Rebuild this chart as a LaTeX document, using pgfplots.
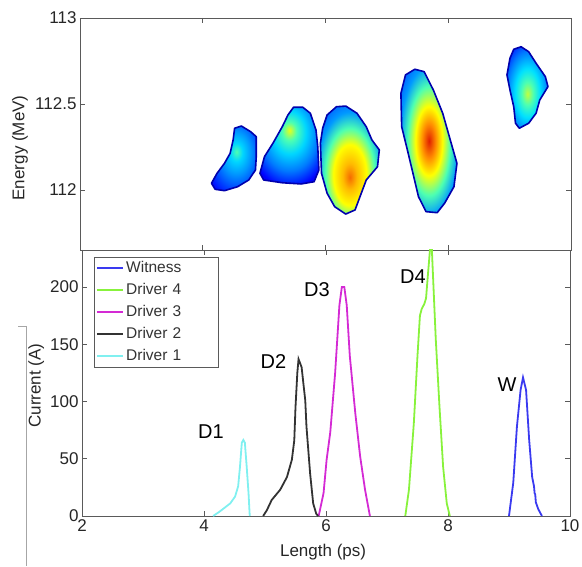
\documentclass[border=0pt]{standalone}
\usepackage{fontspec}
\setmainfont{Liberation Sans}
\usepackage{pgfplots}
\pgfplotsset{compat=1.18}

\definecolor{frame}{HTML}{5A5A5A}
\definecolor{witness}{HTML}{3A3AF0}
\definecolor{drv4}{HTML}{88F23C}
\definecolor{drv3}{HTML}{D42AD4}
\definecolor{drv2}{HTML}{333333}
\definecolor{drv1}{HTML}{80F0F0}
\definecolor{jnavy}{rgb}{0,0,0.62}
\definecolor{jblue}{rgb}{0,0,1}
\definecolor{jmb}{rgb}{0,0.3,1}
\definecolor{jlb}{rgb}{0,0.6,1}
\definecolor{jcyan}{rgb}{0,1,1}
\definecolor{jgreen}{rgb}{0.5,1,0.5}
\definecolor{jyellow}{rgb}{1,1,0}
\definecolor{jorange}{rgb}{1,0.55,0}
\definecolor{jred}{rgb}{0.88,0.12,0}

% jet-like blobs, one shading per bunch
\pgfdeclareradialshading{blobA}{\pgfpoint{3bp}{5bp}}{color(0bp)=(jgreen!60!jcyan); color(7bp)=(jcyan!60!jlb); color(16bp)=(jlb); color(26bp)=(jmb); color(36bp)=(jblue); color(45bp)=(jblue!80!jnavy); color(50bp)=(jnavy); color(100bp)=(jnavy)}
\pgfdeclareradialshading{blobB}{\pgfpoint{0bp}{10bp}}{color(0bp)=(jyellow!80!jgreen); color(6bp)=(jgreen!60!jcyan); color(14bp)=(jcyan!60!jlb); color(24bp)=(jlb!60!jmb); color(34bp)=(jblue); color(45bp)=(jblue!80!jnavy); color(50bp)=(jnavy); color(100bp)=(jnavy)}
\pgfdeclareradialshading{blobC}{\pgfpoint{0bp}{-8bp}}{color(0bp)=(jorange!70!jred); color(6bp)=(jorange!60!jyellow); color(14bp)=(jyellow); color(21bp)=(jgreen!60!jcyan); color(28bp)=(jlb); color(36bp)=(jmb); color(43bp)=(jblue); color(50bp)=(jnavy); color(100bp)=(jnavy)}
\pgfdeclareradialshading{blobD}{\pgfpoint{0bp}{0bp}}{color(0bp)=(jred); color(6bp)=(jorange); color(12bp)=(jyellow); color(19bp)=(jgreen!60!jcyan); color(26bp)=(jlb); color(34bp)=(jmb); color(42bp)=(jblue); color(50bp)=(jnavy); color(100bp)=(jnavy)}
\pgfdeclareradialshading{blobW}{\pgfpoint{0bp}{-4bp}}{color(0bp)=(jyellow!50!jgreen); color(7bp)=(jgreen!60!jcyan); color(15bp)=(jcyan!70!jlb); color(25bp)=(jlb!60!jmb); color(35bp)=(jblue); color(45bp)=(jblue!80!jnavy); color(50bp)=(jnavy); color(100bp)=(jnavy)}

\pgfplotsset{
  every axis/.append style={
    scale only axis,
    anchor=south west,
    xmin=2, xmax=10,
    axis line style={frame, line width=0.9pt},
    tick style={frame, line width=0.8pt},
    major tick length=5pt,
    tick align=inside,
    tick label style={font=\fontsize{17}{17}\selectfont, text=black!85},
    label style={font=\fontsize{17}{17}\selectfont, text=black!85},
    /pgf/number format/assume math mode=true,
  },
  blob/.style={shade, shading=#1, draw=jnavy!85!jblue, line width=1.6pt, line join=round},
}

\begin{document}
\begin{tikzpicture}
\path[use as bounding box] (0pt,0pt) rectangle (582pt,566pt);

% energy vs length
\begin{axis}[
  at={(80pt,316pt)}, width=491pt, height=232pt,
  ymin=111.651, ymax=113,
  xtick={4,6,8}, xticklabels={},
  ytick={112,112.5,113}, yticklabels={112,112.5,113},
  ylabel={Energy (MeV)},
  ylabel style={at={(axis description cs:-0.122,0.44)}, anchor=center},
]
\addplot[blob=blobA] coordinates {
  (4.142,112.039) (4.202,112.004) (4.354,111.996) (4.568,112.019) (4.749,112.058)
  (4.859,112.116) (4.872,112.194) (4.872,112.310) (4.780,112.339) (4.629,112.372)
  (4.519,112.359) (4.495,112.291) (4.446,112.213) (4.354,112.155) (4.233,112.097)} --cycle;
\addplot[blob=blobB] coordinates {
  (4.932,112.097) (4.993,112.058) (5.296,112.042) (5.602,112.035) (5.814,112.048)
  (5.892,112.116) (5.874,112.252) (5.845,112.349) (5.753,112.446) (5.631,112.481)
  (5.479,112.481) (5.388,112.436) (5.296,112.368) (5.144,112.272) (5.006,112.194)} --cycle;
\addplot[blob=blobC] coordinates {
  (5.917,112.272) (5.935,112.097) (6.026,111.981) (6.149,111.903) (6.330,111.860)
  (6.482,111.884) (6.562,111.961) (6.664,112.058) (6.847,112.135) (6.877,112.233)
  (6.756,112.291) (6.664,112.368) (6.513,112.446) (6.330,112.488) (6.178,112.484)
  (6.026,112.436) (5.954,112.359)} --cycle;
\addplot[blob=blobD] coordinates {
  (7.303,112.669) (7.229,112.562) (7.241,112.368) (7.334,112.233) (7.425,112.097)
  (7.515,111.961) (7.638,111.874) (7.820,111.868) (7.941,111.923) (8.093,112.019)
  (8.142,112.155) (8.033,112.291) (7.910,112.446) (7.758,112.581) (7.607,112.688)
  (7.455,112.702)} --cycle;
\addplot[blob=blobW] coordinates {
  (9.006,112.766) (8.957,112.669) (9.006,112.581) (9.067,112.484) (9.096,112.388)
  (9.158,112.359) (9.310,112.388) (9.431,112.446) (9.491,112.523) (9.625,112.601)
  (9.582,112.659) (9.431,112.737) (9.310,112.804) (9.187,112.833) (9.067,112.818)} --cycle;
\end{axis}

% current vs length
\begin{axis}[
  at={(82pt,50pt)}, width=488pt, height=266pt,
  ymin=0, ymax=232.3,
  xtick={2,4,...,10}, ytick={0,50,...,200},
  xlabel={Length (ps)}, ylabel={Current (A)},
  xlabel style={at={(axis description cs:0.494,-0.135)}, anchor=center},
  ylabel style={at={(axis description cs:-0.094,0.49)}, anchor=center},
  legend cell align=left,
  legend style={at={(0.0246,0.9737)}, anchor=north west, draw=frame, line width=0.8pt,
    font=\fontsize{15.5}{15.5}\selectfont, text=black!80,
    row sep=4pt, inner sep=2pt,
    nodes={inner sep=2pt, text height=11pt, text depth=3pt, text width=88pt}},
  legend image code/.code={\draw[#1, line width=1.8pt] (0pt,0pt) -- (26pt,0pt);},
]
\addplot[witness, line width=1.8pt] coordinates {
  (9.00,0) (9.07,29) (9.13,78) (9.19,110) (9.23,121) (9.28,110) (9.33,67) (9.38,34)
  (9.41,26) (9.42,20) (9.43,19) (9.44,12) (9.48,6) (9.54,0)};
\addplot[drv4, line width=1.8pt] coordinates {
  (7.30,0) (7.36,23) (7.44,81) (7.50,140) (7.54,175) (7.57,181) (7.61,185) (7.64,190)
  (7.67,210) (7.71,236) (7.73,240) (7.75,215) (7.80,154) (7.86,96) (7.92,43) (7.98,11) (8.03,0)};
\addplot[drv3, line width=1.8pt] coordinates {
  (5.88,0) (5.96,20) (6.01,49) (6.07,73) (6.15,125) (6.22,184) (6.26,200) (6.30,200)
  (6.34,184) (6.39,140) (6.48,90) (6.56,52) (6.64,23) (6.72,0)};
\addplot[drv2, line width=1.8pt] coordinates {
  (4.97,0) (5.03,5) (5.11,14) (5.25,23) (5.36,34) (5.44,49) (5.48,66) (5.50,95) (5.53,125)
  (5.55,137) (5.60,130) (5.66,101) (5.68,78) (5.74,37) (5.79,11) (5.84,2) (5.87,0)};
\addplot[drv1, line width=1.8pt] coordinates {
  (4.15,0) (4.26,4) (4.43,11) (4.51,17) (4.56,26) (4.59,43) (4.62,64) (4.645,66.4)
  (4.67,64) (4.70,43) (4.73,20) (4.75,0)};
\legend{Witness, Driver 4, Driver 3, Driver 2, Driver 1}
\node[font=\fontsize{20}{20}\selectfont] at (axis cs:4.115,73.4) {D1};
\node[font=\fontsize{20}{20}\selectfont] at (axis cs:5.139,134.5) {D2};
\node[font=\fontsize{20}{20}\selectfont] at (axis cs:5.852,197.4) {D3};
\node[font=\fontsize{20}{20}\selectfont] at (axis cs:7.426,209.2) {D4};
\node[font=\fontsize{20}{20}\selectfont] at (axis cs:8.967,114.8) {W};
\end{axis}

\draw[black!35, line width=1pt] (18pt,239pt) -- (26pt,239pt) -- (26pt,0pt);
\end{tikzpicture}
\end{document}
